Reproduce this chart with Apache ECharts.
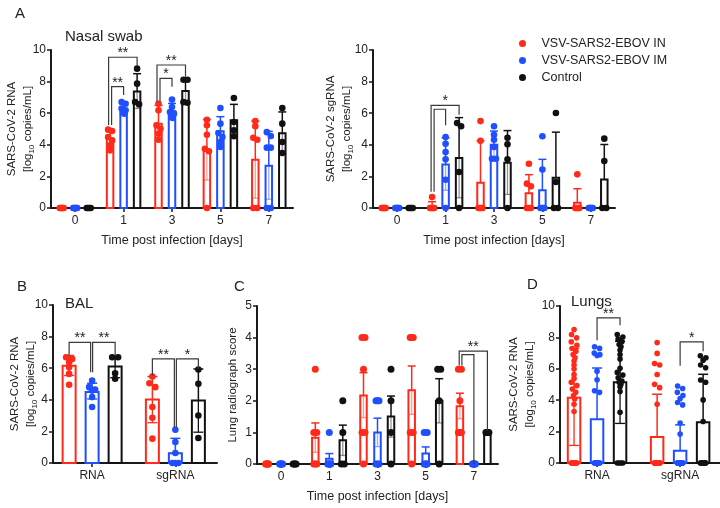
<!DOCTYPE html>
<html>
<head>
<meta charset="utf-8">
<script src="https://cdn.jsdelivr.net/npm/echarts@6/dist/echarts.min.js"></script>
<style>
html,body{margin:0;padding:0;background:#fff;}
#chart{width:720px;height:508px;}
</style>
</head>
<body>
<div id="chart"></div>
<script>
// ---------------- DATA ----------------
const GROUP_NAMES = ['VSV-SARS2-EBOV IN', 'VSV-SARS2-EBOV IM', 'Control'];
const DAY_CATS = ['0', '1', '3', '5', '7'];
const SAMPLE_CATS = ['RNA', 'sgRNA'];

// Panel A left: nasal swab RNA
const A_RNA_IN_PTS = [[0,0,0,0,0,0],[4.96,4.87,4.49,4.28,3.97,3.65],[6.6,6.18,5.23,5.02,4.7,4.32],[5.59,5.23,4.64,3.75,3.59,0],[5.5,5.17,4.45,4.32,0,0]];
const A_RNA_IN_MEAN = [0, 4.39, 5.34, 3.65, 3.06];
const A_RNA_IN_HI = [null, 4.92, 6.5, 5.6, 5.5];
const A_RNA_IN_LO = [null, 3.85, 4.25, 1.77, 0.62];
const A_RNA_IM_PTS = [[0,0,0,0,0,0],[6.71,6.6,6.29,6.18,6.08,5.97],[6.86,6.39,6.08,5.97,5.8,5.7],[6.33,5.34,4.75,4.49,4.18,3.86],[4.8,4.56,3.82,3.82,0,0]];
const A_RNA_IM_MEAN = [0, 6.22, 6.12, 4.85, 2.68];
const A_RNA_IM_HI = [null, 6.55, 6.62, 5.78, 4.85];
const A_RNA_IM_LO = [null, 5.9, 5.65, 3.94, 0.55];
const A_RNA_CT_PTS = [[0,0,0,0],[8.82,7.87,6.71,6.56],[8.12,8.12,6.7,6.66],[6.96,5.44,4.92,4.54],[6.33,5.34,4.18,3.48]];
const A_RNA_CT_MEAN = [0, 7.38, 7.4, 5.55, 4.73];
const A_RNA_CT_HI = [null, 8.5, 8.1, 6.56, 6.08];
const A_RNA_CT_LO = [null, 6.3, 6.7, 4.55, 3.4];
// [category, left group, right group, top, left leg end, right leg end, label]
const A_RNA_BRACKETS = [[1,0,2,9.54,5.25,9.0,'**'],[1,0,1,7.68,5.25,7.15,'**'],[2,0,2,9.05,6.73,8.31,'**'],[2,0,1,8.21,6.73,7.68,'*']];

// Panel A right: nasal swab sgRNA
const A_SG_IN_PTS = [[0,0,0,0,0,0],[0.7,0,0,0,0,0],[5.5,4.25,0,0,0,0],[2.8,1.54,1.37,0,0,0],[2.13,0,0,0,0,0]];
const A_SG_IN_MEAN = [0, 0.12, 1.6, 0.93, 0.33];
const A_SG_IN_HI = [null, 0.4, 4.25, 2.11, 1.22];
const A_SG_IN_LO = [null, null, null, null, null];
const A_SG_IM_PTS = [[0,0,0,0,0,0],[4.49,4.07,3.54,3.08,1.79,0],[5.17,4.64,4.32,3.86,3.12,3.12],[4.54,2.43,0,0,0,0],[0,0,0,0,0,0]];
const A_SG_IM_MEAN = [0, 2.76, 4.0, 1.12, 0];
const A_SG_IM_HI = [null, 4.45, 4.87, 3.08, null];
const A_SG_IM_LO = [null, 1.12, 3.15, null, null];
const A_SG_CT_PTS = [[0,0,0,0],[5.38,5.17,2.28,0],[4.45,4.03,3.08,0],[6.01,1.65,0,0],[4.39,2.97,0,0]];
const A_SG_CT_MEAN = [0, 3.16, 2.86, 1.92, 1.8];
const A_SG_CT_HI = [null, 5.72, 4.9, 4.8, 4.02];
const A_SG_CT_LO = [null, 0.65, 0.86, null, null];
const A_SG_BRACKETS = [[1,0,2,6.5,1.03,5.9,'*'],[1,0,1,6.25,1.03,5.23,'']];

// Panel B: BAL
const B_IN_PTS = [[6.69,6.59,6.38,6.06,5.64,4.95],[5.47,5.05,4.8,3.54,2.86,1.54]];
const B_IN_MEAN = [6.15, 4.02];
const B_IN_HI = [6.8, 5.47];
const B_IN_LO = [5.54, 2.55];
const B_IM_PTS = [[5.22,4.8,4.65,4.59,4.17,3.54],[2.1,1.33,0.63,0,0,0]];
const B_IM_MEAN = [4.5, 0.62];
const B_IM_HI = [5.05, 1.56];
const B_IM_LO = [4.05, null];
const B_CT_PTS = [[6.69,6.69,5.68,5.33],[5.92,5.01,3.01,1.58]];
const B_CT_MEAN = [6.1, 3.95];
const B_CT_HI = [6.75, 5.95];
const B_CT_LO = [5.4, 1.95];
const B_BRACKETS = [[0,0,1,7.64,6.8,5.75,'**'],[0,1,2,7.64,5.75,6.8,'**'],[1,0,1,6.59,5.54,2.27,'**'],[1,1,2,6.59,2.27,5.96,'*']];

// Panel C: lung radiograph score
const C_IN_PTS = [[0,0,0,0,0,0],[3,1,1,0,0,0],[4,4,3,1,1,0],[4,4,4,1,1,0],[3,3,2,1,1,1]];
const C_IN_MEAN = [0, 0.83, 2.17, 2.33, 1.83];
const C_IN_HI = [null, 1.3, 2.89, 3.1, 2.24];
const C_IN_LO = [null, 0.37, 1.47, 1.57, 1.43];
const C_IM_PTS = [[0,0,0,0,0,0],[1,0,0,0,0,0],[2,2,2,0,0,0],[1,1,0,0,0,0],[0,0,0,0,0,0]];
const C_IM_MEAN = [0, 0.17, 1.0, 0.33, 0];
const C_IM_HI = [null, 0.33, 1.45, 0.54, null];
const C_IM_LO = [null, null, 0.55, null, null];
const C_CT_PTS = [[0,0,0,0],[2,1,0,0],[3,2,1,0],[3,3,2,0],[1,1,1,1]];
const C_CT_MEAN = [0, 0.75, 1.5, 2.0, 1.0];
const C_CT_HI = [null, 1.23, 2.15, 2.7, null];
const C_CT_LO = [null, 0.27, 0.85, 1.3, null];
const C_BRACKETS = [[4,0,2,3.57,3.12,1.06,'**'],[4,0,1,3.46,3.12,0,'']];

// Panel D: lungs
const D_IN_PTS = [[8.5,8.18,7.97,7.72,7.5,7.29,7.12,6.91,6.7,6.49,6.24,5.98,5.64,5.39,5.14,4.93,4.71,4.5,4.29,4.08,3.74,3.28,0,0,0,0,0,0,0,0,0,0],
                  [7.67,6.98,6.34,6.24,5.64,5.01,4.8,3.74,0,0,0,0,0,0,0,0,0,0,0,0,0,0,0,0,0,0,0,0]];
const D_IN_MEAN = [4.16, 1.65];
const D_IN_HI = [7.3, 4.38];
const D_IN_LO = [1.12, null];
const D_IM_PTS = [[7.4,7.3,7.0,6.9,6.85,5.85,5.3,4.6,4.5,0,0,0,0,0,0,0,0,0,0,0],
                  [4.9,4.75,4.5,4.3,4.1,3.85,3.7,2.55,1.85,0,0,0,0,0,0,0,0,0,0,0,0,0,0,0,0,0,0,0,0]];
const D_IM_MEAN = [2.79, 0.78];
const D_IM_HI = [6.05, 2.43];
const D_IM_LO = [null, null];
const D_CT_PTS = [[8.18,8.03,7.89,7.72,7.55,7.4,7.19,6.91,6.62,6.03,5.77,5.6,5.43,5.22,5.14,5.01,4.86,4.55,3.23,0,0,0,0],
                  [6.83,6.7,6.55,6.24,6.07,5.29,5.14,4.02,2.64,0,0,0,0,0,0,0,0,0,0]];
const D_CT_MEAN = [5.15, 2.6];
const D_CT_HI = [7.75, 5.65];
const D_CT_LO = [2.52, null];
const D_BRACKETS = [[0,1,2,9.24,7.82,8.77,'**'],[1,1,2,7.72,6.19,7.12,'*']];

const Y_RNA_TICKS = {min: 0, max: 10, interval: 2};
const Y_SCORE_TICKS = {min: 0, max: 5, interval: 1};

// ---------------- STYLE / LAYOUT ----------------
const FONT = 'Arial, "Liberation Sans", Helvetica, sans-serif';
const COLORS = ['#FF2A1A', '#1F4FFF', '#111111'];
const AXIS_COLOR = '#1a1a1a';
const LAYOUT = {
  A1: {grid: {left: 51, top: 50, width: 242, height: 158}, offsets: [-13.5, 0, 13.5], barW: 6.5, capW: 8, r: 3.3, spread: 2, loAlpha: 0.45, nudge: [[-1.5,0],[1.5,0],[-1.5,0],[1.5,0]]},
  A2: {grid: {left: 373, top: 50, width: 242, height: 158}, offsets: [-13.5, 0, 13.5], barW: 6.5, capW: 8, r: 3.3, spread: 2, loAlpha: 0.45, nudge: [[-1,0],[2,0]]},
  B:  {grid: {left: 53, top: 305, width: 164, height: 158}, xmin: -0.47, xmax: 1.5, offsets: [-23, 0, 23], barW: 13, capW: 10, r: 3.3, spread: 3, loAlpha: 1, nudge: [[0,-1.5],[0.5,0],[0,-1],[1,0]]},
  C:  {grid: {left: 257, top: 306, width: 241, height: 158}, offsets: [-14, 0, 13.5], barW: 6.5, capW: 8, r: 3.5, spread: 1.5, loAlpha: 0.45, nudge: [[-0.7,0],[2,0]]},
  D:  {grid: {left: 560, top: 306, width: 160, height: 157}, xmin: -0.446, xmax: 1.48, offsets: [-23, 0, 23], barW: 12.5, capW: 10, r: 2.8, spread: 2.8, loAlpha: 1, nudge: [[0,0],[0,0]]}
};

const PANELS = [
  {key: 'A1', cats: DAY_CATS, y: Y_RNA_TICKS, yName: 'SARS-CoV-2 RNA\n[log{s|10} copies/mL]', xName: 'Time post infection [days]', yGap: 15,
   groups: [[A_RNA_IN_PTS, A_RNA_IN_MEAN, A_RNA_IN_HI, A_RNA_IN_LO],[A_RNA_IM_PTS, A_RNA_IM_MEAN, A_RNA_IM_HI, A_RNA_IM_LO],[A_RNA_CT_PTS, A_RNA_CT_MEAN, A_RNA_CT_HI, A_RNA_CT_LO]], brackets: A_RNA_BRACKETS},
  {key: 'A2', cats: DAY_CATS, y: Y_RNA_TICKS, yName: 'SARS-CoV-2 sgRNA\n[log{s|10} copies/mL]', xName: 'Time post infection [days]', yGap: 18,
   groups: [[A_SG_IN_PTS, A_SG_IN_MEAN, A_SG_IN_HI, A_SG_IN_LO],[A_SG_IM_PTS, A_SG_IM_MEAN, A_SG_IM_HI, A_SG_IM_LO],[A_SG_CT_PTS, A_SG_CT_MEAN, A_SG_CT_HI, A_SG_CT_LO]], brackets: A_SG_BRACKETS},
  {key: 'B', cats: SAMPLE_CATS, y: Y_RNA_TICKS, yName: 'SARS-CoV-2 RNA\n[log{s|10} copies/mL]', xName: '', yGap: 14,
   groups: [[B_IN_PTS, B_IN_MEAN, B_IN_HI, B_IN_LO],[B_IM_PTS, B_IM_MEAN, B_IM_HI, B_IM_LO],[B_CT_PTS, B_CT_MEAN, B_CT_HI, B_CT_LO]], brackets: B_BRACKETS},
  {key: 'C', cats: DAY_CATS, y: Y_SCORE_TICKS, yName: 'Lung radiograph score', xName: 'Time post infection [days]', yGap: 16,
   groups: [[C_IN_PTS, C_IN_MEAN, C_IN_HI, C_IN_LO],[C_IM_PTS, C_IM_MEAN, C_IM_HI, C_IM_LO],[C_CT_PTS, C_CT_MEAN, C_CT_HI, C_CT_LO]], brackets: C_BRACKETS},
  {key: 'D', cats: SAMPLE_CATS, y: Y_RNA_TICKS, yName: 'SARS-CoV-2 RNA\n[log{s|10} copies/mL]', xName: '', yGap: 22,
   groups: [[D_IN_PTS, D_IN_MEAN, D_IN_HI, D_IN_LO],[D_IM_PTS, D_IM_MEAN, D_IM_HI, D_IM_LO],[D_CT_PTS, D_CT_MEAN, D_CT_HI, D_CT_LO]], brackets: D_BRACKETS}
];

// ---------------- HELPERS ----------------
function spreadOffsets(pys, r, maxHalf) {
  const idx = pys.map((y, i) => i).sort((a, b) => pys[a] - pys[b]);
  const off = new Array(pys.length).fill(0);
  let s = 0;
  while (s < idx.length) {
    let e = s + 1;
    while (e < idx.length && pys[idx[e]] - pys[idx[e - 1]] < r * 1.4) e++;
    const k = e - s;
    if (k > 1) {
      const h = Math.min(maxHalf, (k - 1) * r * 0.9);
      for (let j = 0; j < k; j++) {
        const p = (j % 2 === 0) ? j / 2 : k - 1 - (j - 1) / 2;
        off[idx[s + j]] = -h + 2 * h * p / (k - 1);
      }
    }
    s = e;
  }
  return off;
}

function groupSeries(panel, pIdx, gi) {
  const L = LAYOUT[panel.key];
  const [pts, mean, hi, lo] = panel.groups[gi];
  const color = COLORS[gi];
  return {
    type: 'custom', name: GROUP_NAMES[gi], xAxisIndex: pIdx, yAxisIndex: pIdx,
    itemStyle: {color: color}, silent: true, z: 2,
    data: mean.map((m, i) => [i, m]),
    renderItem: function (params, api) {
      const i = params.dataIndex;
      const base = api.coord([i, 0]);
      const cx = base[0] + L.offsets[gi];
      const yOf = v => api.coord([i, v])[1];
      const ch = [];
      const yTop = yOf(mean[i]);
      if (mean[i] > 0) {
        ch.push({type: 'rect', shape: {x: cx - L.barW / 2, y: yTop, width: L.barW, height: base[1] - yTop},
                 style: {fill: '#ffffff', stroke: color, lineWidth: 2}});
      }
      if (lo[i] != null && lo[i] < mean[i]) {
        const yl = yOf(lo[i]);
        ch.push({type: 'line', shape: {x1: cx, y1: yTop, x2: cx, y2: yl}, style: {stroke: color, lineWidth: 1.3, opacity: L.loAlpha}});
        ch.push({type: 'line', shape: {x1: cx - L.capW / 2, y1: yl, x2: cx + L.capW / 2, y2: yl}, style: {stroke: color, lineWidth: 1.3, opacity: L.loAlpha}});
      }
      if (hi[i] != null && hi[i] > mean[i]) {
        const yh = yOf(hi[i]);
        ch.push({type: 'line', shape: {x1: cx, y1: yTop, x2: cx, y2: yh}, style: {stroke: color, lineWidth: 1.5}});
        ch.push({type: 'line', shape: {x1: cx - L.capW / 2, y1: yh, x2: cx + L.capW / 2, y2: yh}, style: {stroke: color, lineWidth: 1.5}});
      }
      const pys = pts[i].map(v => yOf(v));
      const offs = spreadOffsets(pys, L.r, L.spread);
      pys.forEach((py, k) => {
        ch.push({type: 'circle', shape: {cx: cx + offs[k], cy: py, r: L.r}, style: {fill: color}});
      });
      return {type: 'group', children: ch};
    }
  };
}

function bracketSeries(panel, pIdx) {
  const L = LAYOUT[panel.key];
  const br = panel.brackets;
  return {
    type: 'custom', xAxisIndex: pIdx, yAxisIndex: pIdx, silent: true, z: 3,
    data: br.map(b => [b[0], b[3]]),
    renderItem: function (params, api) {
      const b = br[params.dataIndex];
      const nd = L.nudge[params.dataIndex] || [0, 0];
      const base = api.coord([b[0], 0]);
      const x1 = base[0] + L.offsets[b[1]] + nd[0];
      const x2 = base[0] + L.offsets[b[2]] + nd[1];
      const yt = api.coord([b[0], b[3]])[1];
      const y1 = api.coord([b[0], b[4]])[1];
      const y2 = api.coord([b[0], b[5]])[1];
      const ch = [{type: 'polyline', shape: {points: [[x1, y1], [x1, yt], [x2, yt], [x2, y2]]},
                   style: {stroke: '#3a3a3a', lineWidth: 1.2, fill: null}}];
      if (b[6]) {
        ch.push({type: 'text', style: {text: b[6], x: (x1 + x2) / 2, y: yt + 3, align: 'center', verticalAlign: 'bottom',
                 fontSize: 14, fontFamily: FONT, fill: '#222'}});
      }
      return {type: 'group', children: ch};
    }
  };
}

// ---------------- OPTION ----------------
const grids = [], xAxes = [], yAxes = [], series = [];
PANELS.forEach((p, pIdx) => {
  const L = LAYOUT[p.key];
  grids.push(Object.assign({containLabel: false, outerBoundsMode: 'none'}, L.grid));
  const axisLine = {show: true, onZero: false, lineStyle: {color: AXIS_COLOR, width: 2}};
  const axisTick = {show: true, length: 4, lineStyle: {color: AXIS_COLOR, width: 1.5}};
  const labelStyle = {fontSize: 12, color: '#222', fontFamily: FONT};
  const nameStyle = {fontSize: 12.5, color: '#222', fontFamily: FONT};
  if (L.xmin == null) {
    xAxes.push({type: 'category', gridIndex: pIdx, data: p.cats, boundaryGap: true,
      axisLine: axisLine, axisTick: Object.assign({alignWithLabel: true}, axisTick),
      axisLabel: Object.assign({margin: 7}, labelStyle),
      name: p.xName, nameLocation: 'middle', nameGap: 26, nameMoveOverlap: false, nameTextStyle: nameStyle});
  } else {
    const cv = p.cats.map((c, i) => i);
    xAxes.push({type: 'value', gridIndex: pIdx, min: L.xmin, max: L.xmax, splitLine: {show: false},
      axisLine: axisLine, axisTick: Object.assign({customValues: cv}, axisTick),
      axisLabel: Object.assign({margin: 7, customValues: cv, formatter: v => p.cats[Math.round(v)]}, labelStyle)});
  }
  yAxes.push({type: 'value', gridIndex: pIdx, min: p.y.min, max: p.y.max, interval: p.y.interval,
    splitLine: {show: false}, axisLine: axisLine, axisTick: axisTick,
    axisLabel: Object.assign({margin: 5}, labelStyle),
    name: p.yName, nameLocation: 'middle', nameRotate: 90, nameGap: p.yGap, nameMoveOverlap: false,
    nameTextStyle: {fontSize: 11.5, color: '#222', fontFamily: FONT, lineHeight: 16,
      rich: {s: {fontSize: 8, fontFamily: FONT, color: '#222', verticalAlign: 'bottom', lineHeight: 12}}}});
  [0, 1, 2].forEach(gi => series.push(groupSeries(p, pIdx, gi)));
  series.push(bracketSeries(p, pIdx));
});

const titleStyle = {fontSize: 15, fontWeight: 'normal', color: '#222', fontFamily: FONT};
const letterStyle = {fontSize: 15, fontWeight: 'normal', color: '#222', fontFamily: FONT};
const option = {
  backgroundColor: '#ffffff',
  animation: false,
  title: [
    {text: 'A', left: 10, top: 1, textStyle: letterStyle},
    {text: 'Nasal swab', left: 60, top: 24, textStyle: titleStyle},
    {text: 'B', left: 12, top: 274, textStyle: letterStyle},
    {text: 'BAL', left: 60, top: 291, textStyle: titleStyle},
    {text: 'C', left: 229, top: 274, textStyle: letterStyle},
    {text: 'D', left: 522, top: 272, textStyle: letterStyle},
    {text: 'Lungs', left: 566, top: 289, textStyle: titleStyle}
  ],
  legend: {orient: 'vertical', left: 514, top: 32, icon: 'circle', itemWidth: 28, itemHeight: 7, itemGap: 4,
    selectedMode: false, data: GROUP_NAMES, textStyle: {fontSize: 12.5, color: '#222', fontFamily: FONT}},
  grid: grids, xAxis: xAxes, yAxis: yAxes, series: series
};

const chart = echarts.init(document.getElementById('chart'), null, {renderer: 'canvas', width: 720, height: 508});
chart.setOption(option);
</script>
</body>
</html>
